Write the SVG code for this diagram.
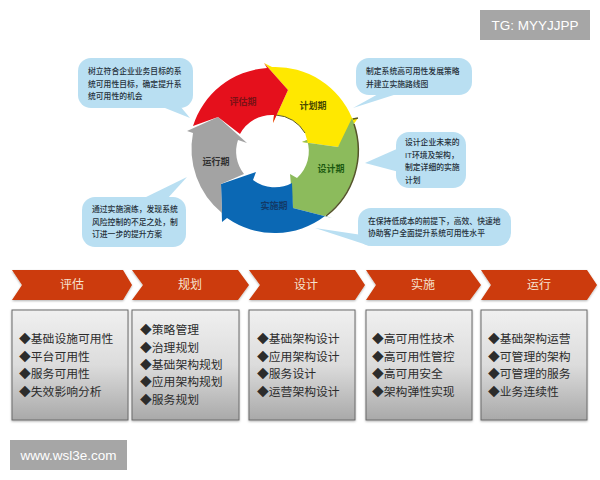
<svg xmlns="http://www.w3.org/2000/svg" width="600" height="480" viewBox="0 0 600 480">
<style>
text{font-family:"Liberation Sans","Noto Sans CJK SC",sans-serif}
.bubble{fill:#b9dff2}
.bt{font-size:7.8px;font-weight:500;fill:#26313b}
.wl{font-size:9px;font-weight:700;text-anchor:middle;dominant-baseline:central}
.chev{fill:#cc3a08;filter:url(#sh)}
.ct{font-size:12px;fill:#f6e2d0;text-anchor:middle;dominant-baseline:central}
.box{fill:url(#boxg);stroke:#6a6a6a;stroke-width:1;filter:url(#sh)}
.it{font-size:11.8px;fill:#2c2c2c;dominant-baseline:central}
.wm{fill:#a6a6a6}
.wt{fill:#fff;font-size:13.5px;text-anchor:middle;dominant-baseline:central}
</style>
<defs>
<linearGradient id="boxg" x1="0" y1="0" x2="0" y2="1"><stop offset="0" stop-color="#f0f0f0"/><stop offset="0.5" stop-color="#dcdcdc"/><stop offset="1" stop-color="#a9a9a9"/></linearGradient>
<filter id="sh" x="-5%" y="-10%" width="110%" height="125%"><feDropShadow dx="0" dy="1" stdDeviation="1" flood-color="#000" flood-opacity="0.3"/></filter>
</defs>
<rect width="600" height="480" fill="#fff"/>

<g id="watermark-top"><rect class="wm" x="480" y="10" width="110" height="30"/><text class="wt" x="535" y="25">TG: MYYJJPP</text></g>

<g id="wheel">
<path id="arrow-yellow" fill="#ffe800" d="M272,67A83,83 0 0 1 352,118L358,118L338,147L302,142L307,140L305,133A36,36 0 0 0 274,115L273,123L288,90L264,63Z"/>
<path fill="none" stroke="#5a5a20" stroke-width="1" d="M276,115A36,36 0 0 1 305,133"/>
<path id="arrow-green" fill="#8cbb5c" d="M352,118A83,83 0 0 1 325,216L332,218L293,208L290,174L297,178A36,36 0 0 0 307,140L302,142L338,147Z"/>
<path fill="none" stroke="#55552a" stroke-width="1.5" d="M353,119L358,118M354,124A83,83 0 0 1 326,216"/>
<path id="arrow-blue" fill="#0b68b4" d="M325,216A83,83 0 0 1 227,218L222,222L221,184L256,172L253,180A36,36 0 0 0 292,183L293,208L332,218Z"/>
<path id="arrow-grey" fill="#a3a3a3" d="M193,133A83,83 0 0 0 222,213L221,184L244,174A36,36 0 0 1 238,140L247,143L218,117L187,131Z"/>
<path id="arrow-red" fill="#e5101c" d="M193,126A83,83 0 0 1 267,68L264,63L288,90L273,123L274,115A36,36 0 0 0 240,134L218,117Z"/>
<text class="wl" x="243" y="102" fill="#7c1015">评估期</text>
<text class="wl" x="313" y="106" fill="#4a4800">计划期</text>
<text class="wl" x="331" y="169" fill="#1c5a10">设计期</text>
<text class="wl" x="274" y="206" fill="#123a68">实施期</text>
<text class="wl" x="216" y="162" fill="#303030">运行期</text>
</g>

<g id="callout-assess">
<path class="bubble" d="M160,106L180,106L190,118Z"/>
<rect class="bubble" x="78" y="58" width="115" height="50" rx="13"/>
<text class="bt" x="88" y="74">树立符合企业业务目标的系</text>
<text class="bt" x="88" y="87">统可用性目标，确定提升系</text>
<text class="bt" x="88" y="99">统可用性的机会</text>
</g>
<g id="callout-run">
<path class="bubble" d="M142,199L167,199L187,177Z"/>
<rect class="bubble" x="82" y="197" width="104" height="50" rx="13"/>
<text class="bt" x="92" y="212">通过实施演练，发现系统</text>
<text class="bt" x="92" y="225">风险控制的不足之处，制</text>
<text class="bt" x="92" y="237">订进一步的提升方案</text>
</g>
<g id="callout-plan">
<path class="bubble" d="M380,93L400,93L353,108Z"/>
<rect class="bubble" x="356" y="58" width="116" height="37" rx="13"/>
<text class="bt" x="366" y="74">制定系统高可用性发展策略</text>
<text class="bt" x="366" y="87">并建立实施路线图</text>
</g>
<g id="callout-design">
<path class="bubble" d="M399,148L399,172L365,163Z"/>
<rect class="bubble" x="396" y="132" width="70" height="56" rx="13"/>
<text class="bt" x="405" y="145">设计企业未来的</text>
<text class="bt" x="405" y="158">IT环境及架构，</text>
<text class="bt" x="405" y="170">制定详细的实施</text>
<text class="bt" x="405" y="183">计划</text>
</g>
<g id="callout-build">
<path class="bubble" d="M362,235L370,246L315,228Z"/>
<rect class="bubble" x="358" y="208" width="153" height="38" rx="13"/>
<text class="bt" x="368" y="224">在保持低成本的前提下，高效、快速地</text>
<text class="bt" x="368" y="236">协助客户全面提升系统可用性水平</text>
</g>

<g id="phase-assess">
<path class="chev" d="M12,270H123L132,285L123,300H12L22,285Z"/><text class="ct" x="72" y="285">评估</text>
<rect class="box" x="12" y="310" width="116" height="110"/>
<text class="it" x="19" y="339">◆基础设施可用性</text><text class="it" x="19" y="357">◆平台可用性</text><text class="it" x="19" y="374">◆服务可用性</text><text class="it" x="19" y="392">◆失效影响分析</text>
</g>
<g id="phase-plan">
<path class="chev" d="M132,270H238L249,285L238,300H132L143,285Z"/><text class="ct" x="190" y="285">规划</text>
<rect class="box" x="132" y="310" width="107" height="110"/>
<text class="it" x="140" y="330">◆策略管理</text><text class="it" x="140" y="348">◆治理规划</text><text class="it" x="140" y="365">◆基础架构规划</text><text class="it" x="140" y="382">◆应用架构规划</text><text class="it" x="140" y="400">◆服务规划</text>
</g>
<g id="phase-design">
<path class="chev" d="M249,270H355L365,285L355,300H249L260,285Z"/><text class="ct" x="306" y="285">设计</text>
<rect class="box" x="249" y="310" width="106" height="110"/>
<text class="it" x="257" y="339">◆基础架构设计</text><text class="it" x="257" y="357">◆应用架构设计</text><text class="it" x="257" y="374">◆服务设计</text><text class="it" x="257" y="392">◆运营架构设计</text>
</g>
<g id="phase-build">
<path class="chev" d="M366,270H470L481,285L470,300H366L376,285Z"/><text class="ct" x="423" y="285">实施</text>
<rect class="box" x="366" y="310" width="106" height="110"/>
<text class="it" x="372" y="339">◆高可用性技术</text><text class="it" x="372" y="357">◆高可用性管控</text><text class="it" x="372" y="374">◆高可用安全</text><text class="it" x="372" y="392">◆架构弹性实现</text>
</g>
<g id="phase-run">
<path class="chev" d="M481,270H587L597,285L587,300H481L491,285Z"/><text class="ct" x="539" y="285">运行</text>
<rect class="box" x="481" y="310" width="106" height="110"/>
<text class="it" x="488" y="339">◆基础架构运营</text><text class="it" x="488" y="357">◆可管理的架构</text><text class="it" x="488" y="374">◆可管理的服务</text><text class="it" x="488" y="392">◆业务连续性</text>
</g>

<g id="watermark-bottom"><rect class="wm" x="10" y="440" width="117" height="30"/><text class="wt" x="68.5" y="455">www.wsl3e.com</text></g>
</svg>
